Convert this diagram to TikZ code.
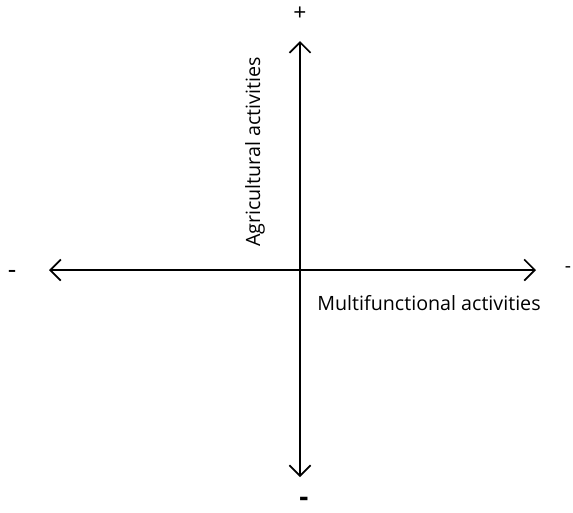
\documentclass[tikz,border=0pt]{standalone}
\usepackage{fontspec}
\setmainfont{Open Sans}
\usetikzlibrary{arrows.meta}

\begin{document}
\begin{tikzpicture}
    [x=0.02cm, y=-0.02cm,
     axis/.style={line width=1pt, {Straight Barb[length=6pt,width=12pt]}-{Straight Barb[length=6pt,width=12pt]}},
     lbl/.style={font=\fontsize{11.2}{13}\selectfont, inner sep=0pt},
     sign/.style={font=\fontsize{13}{15}\selectfont, inner sep=0pt}]
    \useasboundingbox (0,0) rectangle (573,512);
    \coordinate (top) at (300,41);
    \coordinate (bottom) at (300,477);
    \coordinate (left) at (49,270);
    \coordinate (right) at (536,270);
    \draw[axis] (bottom) -- (top);
    \draw[axis] (left) -- (right);
    \node[sign] (plus) at (300,14) {+};
    \node[sign, font=\fontsize{15}{17}\selectfont] (minusleft) at (12,274) {-};
    \node[sign, font=\fontsize{11}{13}\selectfont] (minusright) at (568,270) {-};
    \node[sign, font=\fontsize{16}{18}\selectfont\bfseries] (minusbottom) at (304,502) {-};
    \node[lbl, rotate=90] (agri) at (255,152) {Agricultural activities};
    \node[lbl] (multi) at (429,303) {Multifunctional activities};
\end{tikzpicture}
\end{document}
